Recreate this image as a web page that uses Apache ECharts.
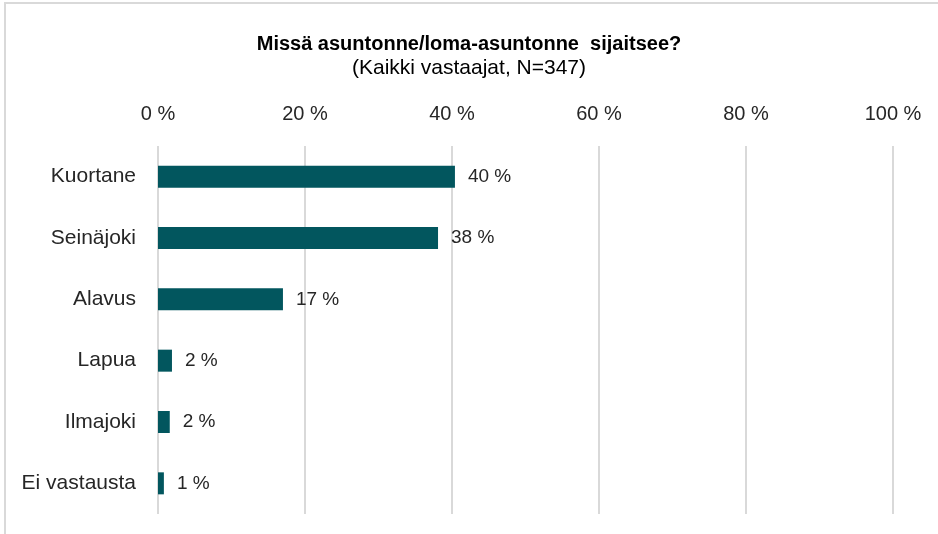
<!DOCTYPE html>
<html><head><meta charset="utf-8">
<script src="https://cdn.jsdelivr.net/npm/echarts@6/dist/echarts.min.js"></script>
<style>html,body{margin:0;padding:0;background:#fff}#c{width:938px;height:534px}</style>
</head><body><div id="c"></div>
<script>
const categories = ['Kuortane','Seinäjoki','Alavus','Lapua','Ilmajoki','Ei vastausta'];
const values = [40.4, 38.1, 17.0, 1.9, 1.6, 0.8];
const tickValues = [0, 20, 40, 60, 80, 100];
const titleText = 'Missä asuntonne/loma-asuntonne  sijaitsee?';
const subtitleText = '(Kaikki vastaajat, N=347)';
const FONT = '"Liberation Sans", Arial, sans-serif';
const chart = echarts.init(document.getElementById('c'), null, {renderer:'canvas'});
chart.setOption({
  animation:false,
  backgroundColor:'#fff',
  graphic:[{type:'rect',shape:{x:5,y:3,width:1000,height:600},style:{fill:'none',stroke:'#d9d9d9',lineWidth:2},silent:true}],
  title:{text:titleText, subtext:subtitleText, left:'center', top:29, itemGap:4,
    textStyle:{fontFamily:FONT,fontSize:20,fontWeight:'bold',color:'#000'},
    subtextStyle:{fontFamily:FONT,fontSize:21,color:'#000'}},
  grid:{left:158,right:45,top:146,bottom:20,containLabel:false},
  xAxis:{type:'value',position:'top',min:0,max:100,interval:20,
    axisLine:{show:false},axisTick:{show:false},
    splitLine:{show:true,lineStyle:{color:'#d9d9d9',width:2}},
    axisLabel:{margin:22,fontFamily:FONT,fontSize:20,color:'#262626',
      formatter:v=>tickValues.includes(v)? v+' %':''}},
  yAxis:{type:'category',inverse:true,data:categories,
    axisLine:{show:false},axisTick:{show:false},
    axisLabel:{margin:22,fontFamily:FONT,fontSize:21,color:'#262626'}},
  series:[{type:'bar',data:values,barWidth:22,
    itemStyle:{color:'#02565e'},
    label:{show:true,position:'right',distance:13,fontFamily:FONT,fontSize:19,color:'#262626',
      formatter:p=>Math.round(p.value)+' %'}}]
});
</script></body></html>
